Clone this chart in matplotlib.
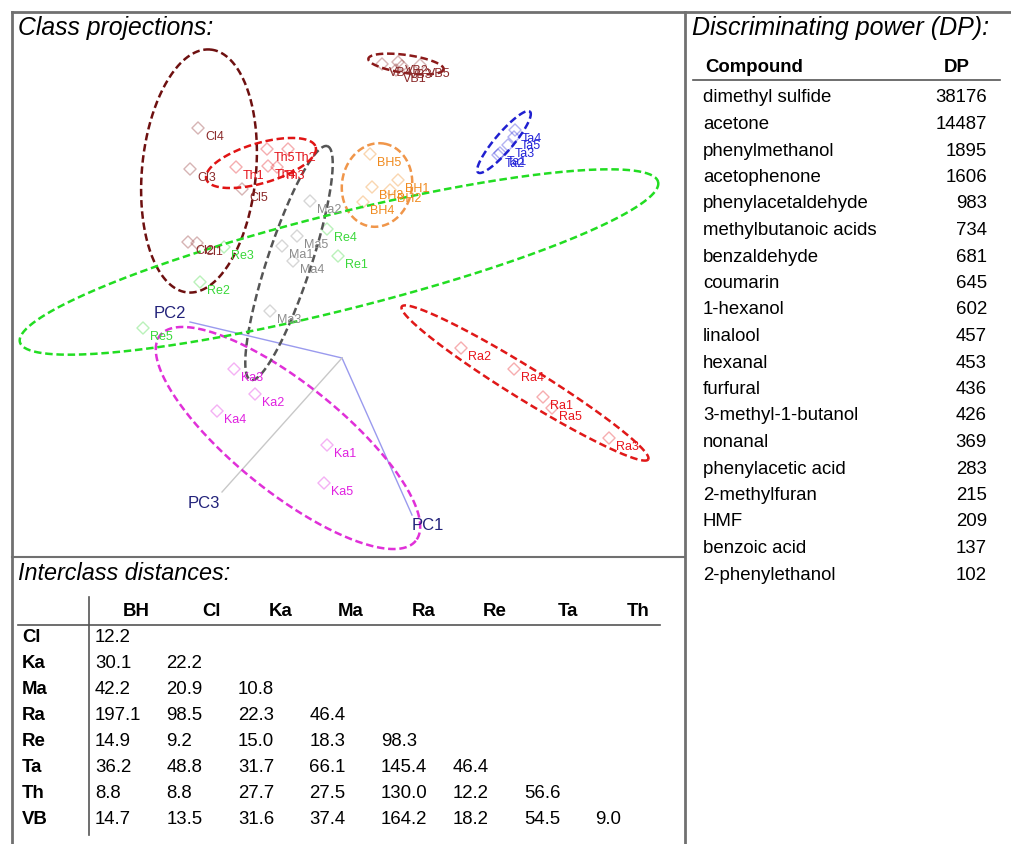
#!/usr/bin/env python3

import numpy as np
import matplotlib.pyplot as plt

plt.rcParams['font.family'] = ['Liberation Sans', 'DejaVu Sans']

# sample projections (in picture units)
classes = ['BH', 'Cl', 'Ka', 'Ma', 'Ra', 'Re', 'Ta', 'Th', 'VB']
pts_x = {
    'BH': [398, 390, 372, 363, 370],
    'Cl': [197, 188, 190, 198, 242],
    'Ka': [327, 255, 234, 217, 324],
    'Ma': [282, 310, 270, 293, 297],
    'Ra': [543, 461, 609, 514, 552],
    'Re': [338, 200, 224, 327, 143],
    'Ta': [500, 498, 508, 515, 514],
    'Th': [236, 288, 277, 268, 267],
    'VB': [396, 398, 402, 382, 420],
}
pts_y = {
    'BH': [180, 190, 187, 202, 154],
    'Cl': [243, 242, 169, 128, 189],
    'Ka': [445, 394, 369, 411, 483],
    'Ma': [246, 201, 311, 261, 236],
    'Ra': [397, 348, 438, 369, 408],
    'Re': [256, 282, 247, 229, 328],
    'Ta': [153, 155, 145, 130, 137],
    'Th': [167, 149, 167, 166, 149],
    'VB': [70, 62, 66, 64, 65],
}

# class ellipses: centre, semi axes, tilt (deg)
ell_cx = [377, 199, 288, 289, 525, 339, 504, 261, 406]
ell_cy = [185, 171, 438, 263, 383, 262, 142, 163, 64]
ell_a = [42, 122, 164, 123, 145, 329, 40, 57, 38]
ell_b = [35, 57, 54, 22, 16, 48, 9, 20, 9]
ell_ang = [-80, -84.6, 38.8, -71.8, 31.8, -14.1, -49.6, -16.4, 8]

label_col = ['#F08A1E', '#8B2A2A', '#E020E0', '#8C8C8C', '#E8141B',
             '#3AD83A', '#2424D8', '#E4141B', '#8B2A2A']
ell_col = ['#F0964A', '#6E1010', '#E030D8', '#555555', '#E01818',
           '#22DD22', '#2020D0', '#E01414', '#8B1A1A']

pc_names = ['PC1', 'PC2', 'PC3']
pc_origin = (342, 358)
pc_end_x = [412, 190, 222]
pc_end_y = [515, 322, 492]

# discriminating power
compounds = ['dimethyl sulfide', 'acetone', 'phenylmethanol', 'acetophenone',
             'phenylacetaldehyde', 'methylbutanoic acids', 'benzaldehyde',
             'coumarin', '1-hexanol', 'linalool', 'hexanal', 'furfural',
             '3-methyl-1-butanol', 'nonanal', 'phenylacetic acid',
             '2-methylfuran', 'HMF', 'benzoic acid', '2-phenylethanol']
dp = [38176, 14487, 1895, 1606, 983, 734, 681, 645, 602, 457, 453, 436,
      426, 369, 283, 215, 209, 137, 102]

# interclass distances (lower triangle)
dist_cols = ['BH', 'Cl', 'Ka', 'Ma', 'Ra', 'Re', 'Ta', 'Th']
dist_rows = ['Cl', 'Ka', 'Ma', 'Ra', 'Re', 'Ta', 'Th', 'VB']
dist = [
    [12.2],
    [30.1, 22.2],
    [42.2, 20.9, 10.8],
    [197.1, 98.5, 22.3, 46.4],
    [14.9, 9.2, 15.0, 18.3, 98.3],
    [36.2, 48.8, 31.7, 66.1, 145.4, 46.4],
    [8.8, 8.8, 27.7, 27.5, 130.0, 12.2, 56.6],
    [14.7, 13.5, 31.6, 37.4, 164.2, 18.2, 54.5, 9.0],
]

fs = 13.4

fig = plt.figure(figsize=(10.12, 8.44), dpi=100)
ax = fig.add_axes([0, 0, 1, 1])
ax.set_xlim(0, 1012)
ax.set_ylim(844, 0)
ax.axis('off')

# frames
fc = '#707070'
ax.plot([12, 1012], [12, 12], color=fc, lw=2)
ax.plot([12, 12], [12, 844], color=fc, lw=2)
ax.plot([685, 685], [12, 844], color=fc, lw=2)
ax.plot([12, 685], [557, 557], color=fc, lw=1.5)

ax.text(18, 28, 'Class projections:', style='italic', fontsize=17.8,
        va='center', ha='left')
ax.text(692, 28, 'Discriminating power (DP):', style='italic', fontsize=18,
        va='center', ha='left')
ax.text(18, 573, 'Interclass distances:', style='italic', fontsize=16.8,
        va='center', ha='left')

# PC axes
for i, name in enumerate(pc_names):
    c = '#C8C8C8' if name == 'PC3' else '#9A9AEE'
    ax.plot([pc_origin[0], pc_end_x[i]], [pc_origin[1], pc_end_y[i]],
            color=c, lw=1)
ax.text(pc_end_x[0], pc_end_y[0] + 10, 'PC1', color='#22227A', fontsize=12,
        ha='left', va='center')
ax.text(pc_end_x[1] - 4, pc_end_y[1] - 9, 'PC2', color='#22227A', fontsize=12,
        ha='right', va='center')
ax.text(pc_end_x[2] - 2, pc_end_y[2] + 11, 'PC3', color='#22227A',
        fontsize=12, ha='right', va='center')

# samples
t = np.linspace(0, 2 * np.pi, 300)
for k, cl in enumerate(classes):
    xs, ys = pts_x[cl], pts_y[cl]
    ax.scatter(xs, ys, marker='D', s=38, facecolors='none',
               edgecolors=label_col[k], alpha=0.35, linewidths=1)
    for j in range(len(xs)):
        ax.annotate(f'{cl}{j + 1}', (xs[j], ys[j]), xytext=(7, -9),
                    textcoords='offset pixels', color=label_col[k],
                    fontsize=9, ha='left', va='center')
    th = np.deg2rad(ell_ang[k])
    ex = ell_cx[k] + ell_a[k] * np.cos(t) * np.cos(th) - ell_b[k] * np.sin(t) * np.sin(th)
    ey = ell_cy[k] + ell_a[k] * np.cos(t) * np.sin(th) + ell_b[k] * np.sin(t) * np.cos(th)
    ax.plot(ex, ey, color=ell_col[k], lw=1.8, ls=(0, (3, 1.5)))

# DP table
ax.text(705, 67, 'Compound', fontweight='bold', fontsize=fs, va='center')
ax.text(970, 67, 'DP', fontweight='bold', fontsize=fs, va='center',
        ha='right')
ax.plot([693, 1000], [80, 80], color='#555555', lw=1.2)
for i, (name, v) in enumerate(zip(compounds, dp)):
    y = 98 + i * 26.5
    ax.text(703, y, name, fontsize=fs, va='center')
    ax.text(987, y, str(v), fontsize=fs, va='center', ha='right')

# distance table
col_x0 = 89
col_w = 71.5
for j, c in enumerate(dist_cols):
    ax.text(col_x0 + (j + 1) * col_w - 11, 612, c, fontweight='bold',
            fontsize=fs, ha='right', va='center')
ax.plot([18, 660], [625, 625], color='#555555', lw=1.2)
ax.plot([89, 89], [597, 835], color='#555555', lw=1.2)
for i, r in enumerate(dist_rows):
    y = 637 + i * 26
    ax.text(22, y, r, fontweight='bold', fontsize=fs, va='center')
    for j, v in enumerate(dist[i]):
        ax.text(col_x0 + 6 + j * col_w, y, f'{v:.1f}', fontsize=fs,
                va='center')

fig.savefig('out.png', dpi=100)
